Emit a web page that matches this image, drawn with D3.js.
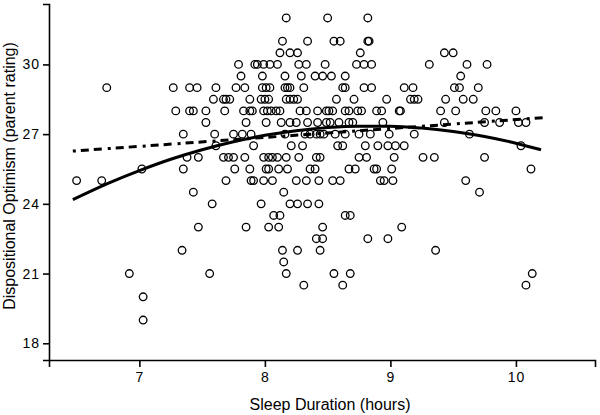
<!DOCTYPE html>
<html>
<head>
<meta charset="utf-8">
<script src="https://cdn.jsdelivr.net/npm/d3@7"></script>
<style>
  html, body { margin: 0; padding: 0; background: #fff; }
  svg { display: block; }
  text { font-family: "Liberation Sans", Arial, Helvetica, sans-serif; fill: #000; }
</style>
</head>
<body>
<svg id="chart" width="600" height="415"></svg>
<script>
// ---- data ----
const xTicks = [7, 8, 9, 10];
const yTicks = [18, 21, 24, 27, 30];

// optimism rating levels and the sleep durations observed at each level
const optimismLevels = [32, 31, 30.5, 30, 29.5, 29, 28.5, 28, 27.5, 27, 26.5, 26, 25.5, 25, 24.5, 24, 23.5, 23, 22.5, 22, 21.5, 21, 20.5, 20, 19];
const sleepByLevel = [
  [8.17, 8.50, 8.82],
  [8.14, 8.34, 8.55, 8.60, 8.82, 8.83],
  [8.12, 8.20, 8.26, 8.76, 9.43, 9.50],
  [7.79, 7.92, 7.94, 7.99, 8.04, 8.10, 8.27, 8.33, 8.48, 8.73, 8.79, 8.85, 9.31, 9.61, 9.77],
  [7.81, 7.98, 8.16, 8.29, 8.40, 8.46, 8.53, 8.64, 9.56],
  [6.74, 7.27, 7.40, 7.46, 7.61, 7.77, 7.84, 7.98, 8.01, 8.04, 8.16, 8.18, 8.20, 8.31, 8.62, 8.64, 8.79, 8.85, 9.11, 9.18, 9.51, 9.55, 9.70],
  [7.59, 7.67, 7.69, 7.72, 7.88, 7.97, 8.00, 8.03, 8.17, 8.20, 8.23, 8.26, 8.57, 8.71, 8.97, 9.16, 9.19, 9.22, 9.44, 9.58, 9.66],
  [7.29, 7.40, 7.43, 7.53, 7.68, 7.83, 7.88, 7.90, 7.99, 8.02, 8.05, 8.09, 8.12, 8.28, 8.33, 8.42, 8.49, 8.51, 8.54, 8.64, 8.67, 8.74, 8.77, 8.89, 8.93, 9.07, 9.08, 9.40, 9.52, 9.76, 9.84, 10.00],
  [7.53, 7.85, 8.01, 8.13, 8.20, 8.25, 8.34, 8.42, 8.49, 8.52, 8.59, 8.67, 8.70, 8.94, 9.43, 9.75, 9.87, 10.02, 10.08],
  [7.35, 7.60, 7.75, 7.82, 7.89, 8.16, 8.32, 8.36, 8.41, 8.44, 8.47, 8.56, 8.64, 8.75, 8.84, 8.99, 9.19, 9.63],
  [7.61, 7.91, 8.21, 8.30, 8.58, 8.62, 8.80, 8.90, 8.98, 9.04, 9.11, 10.04],
  [7.38, 7.47, 7.67, 7.71, 7.75, 7.84, 7.99, 8.03, 8.06, 8.10, 8.17, 8.27, 8.41, 8.44, 8.75, 8.81, 9.03, 9.26, 9.35, 9.75],
  [7.02, 7.35, 7.76, 7.88, 8.01, 8.03, 8.11, 8.18, 8.36, 8.40, 8.67, 8.72, 8.87, 8.89, 9.01, 10.12],
  [6.50, 6.70, 7.69, 7.89, 7.91, 7.99, 8.06, 8.25, 8.33, 8.43, 8.54, 8.60, 8.92, 8.95, 9.02, 9.60],
  [7.43, 8.15, 9.71],
  [7.58, 7.97, 8.20, 8.26, 8.34, 8.43],
  [8.07, 8.12, 8.64, 8.68],
  [7.47, 7.85, 8.03, 8.11, 8.46, 9.09],
  [8.41, 8.46, 8.82, 8.98],
  [7.34, 8.14, 8.26, 8.44, 9.36],
  [8.15],
  [6.92, 7.56, 8.17, 8.55, 8.68, 10.13],
  [8.31, 8.62, 10.08],
  [7.03],
  [7.03]
];

// quadratic fit (solid) and linear fit (dash-dot)
const quadFitX = [6.47, 6.75, 7, 7.25, 7.5, 7.75, 8, 8.25, 8.5, 8.75, 9, 9.25, 9.5, 9.75, 10, 10.2];
const quadFitY = [24.18, 24.88, 25.43, 25.92, 26.33, 26.67, 26.95, 27.15, 27.28, 27.34, 27.34, 27.26, 27.11, 26.90, 26.61, 26.33];
const linFitX = [6.47, 10.22];
const linFitY = [26.27, 27.71];

// ---- chart ----
const svg = d3.select("#chart");
const x = d3.scaleLinear().domain([6.28, 10.63]).range([49, 595]);
const y = d3.scaleLinear().domain([17.28, 32.6]).range([360, 4]);

const points = optimismLevels.flatMap((lv, i) => sleepByLevel[i].map(s => ({ s, o: lv })));

// axes
const xAxis = svg.append("g")
  .attr("transform", "translate(0,360)")
  .call(d3.axisBottom(x).tickValues(xTicks).tickSizeOuter(0).tickSize(7).tickPadding(5).tickFormat(d3.format("d")));
const yAxis = svg.append("g")
  .attr("transform", "translate(49,0)")
  .call(d3.axisLeft(y).tickValues(yTicks).tickSizeOuter(0).tickSize(6).tickPadding(3).tickFormat(d3.format("d")));

[xAxis, yAxis].forEach(g => {
  g.select(".domain").attr("stroke", "#000").attr("stroke-width", 1.6);
  g.selectAll(".tick line").attr("stroke", "#000").attr("stroke-width", 1.6);
  g.selectAll(".tick text")
    .attr("font-size", 14)
    .attr("letter-spacing", "1px")
    .attr("fill", "#000")
    .style("font-family", "'Liberation Sans', Arial, sans-serif");
});

// scatter points
svg.append("g")
  .selectAll("circle")
  .data(points)
  .join("circle")
  .attr("cx", d => x(d.s))
  .attr("cy", d => y(d.o))
  .attr("r", 3.8)
  .attr("fill", "none")
  .attr("stroke", "#000")
  .attr("stroke-width", 1.3);

// fit lines
const quad = quadFitX.map((v, i) => [v, quadFitY[i]]);
const lin = linFitX.map((v, i) => [v, linFitY[i]]);
const line = d3.line().x(d => x(d[0])).y(d => y(d[1])).curve(d3.curveMonotoneX);

svg.append("path")
  .datum(lin)
  .attr("d", line)
  .attr("fill", "none")
  .attr("stroke", "#000")
  .attr("stroke-width", 3)
  .attr("stroke-dasharray", "3,5,8,5,8,6");

svg.append("path")
  .datum(quad)
  .attr("d", line)
  .attr("fill", "none")
  .attr("stroke", "#000")
  .attr("stroke-width", 3);

// axis titles
svg.append("text")
  .attr("x", 330)
  .attr("y", 410)
  .attr("text-anchor", "middle")
  .attr("font-size", 16)
  .text("Sleep Duration (hours)");

svg.append("text")
  .attr("transform", "translate(15,176) rotate(-90)")
  .attr("text-anchor", "middle")
  .attr("font-size", 16)
  .text("Dispositional Optimism (parent rating)");
</script>
</body>
</html>
